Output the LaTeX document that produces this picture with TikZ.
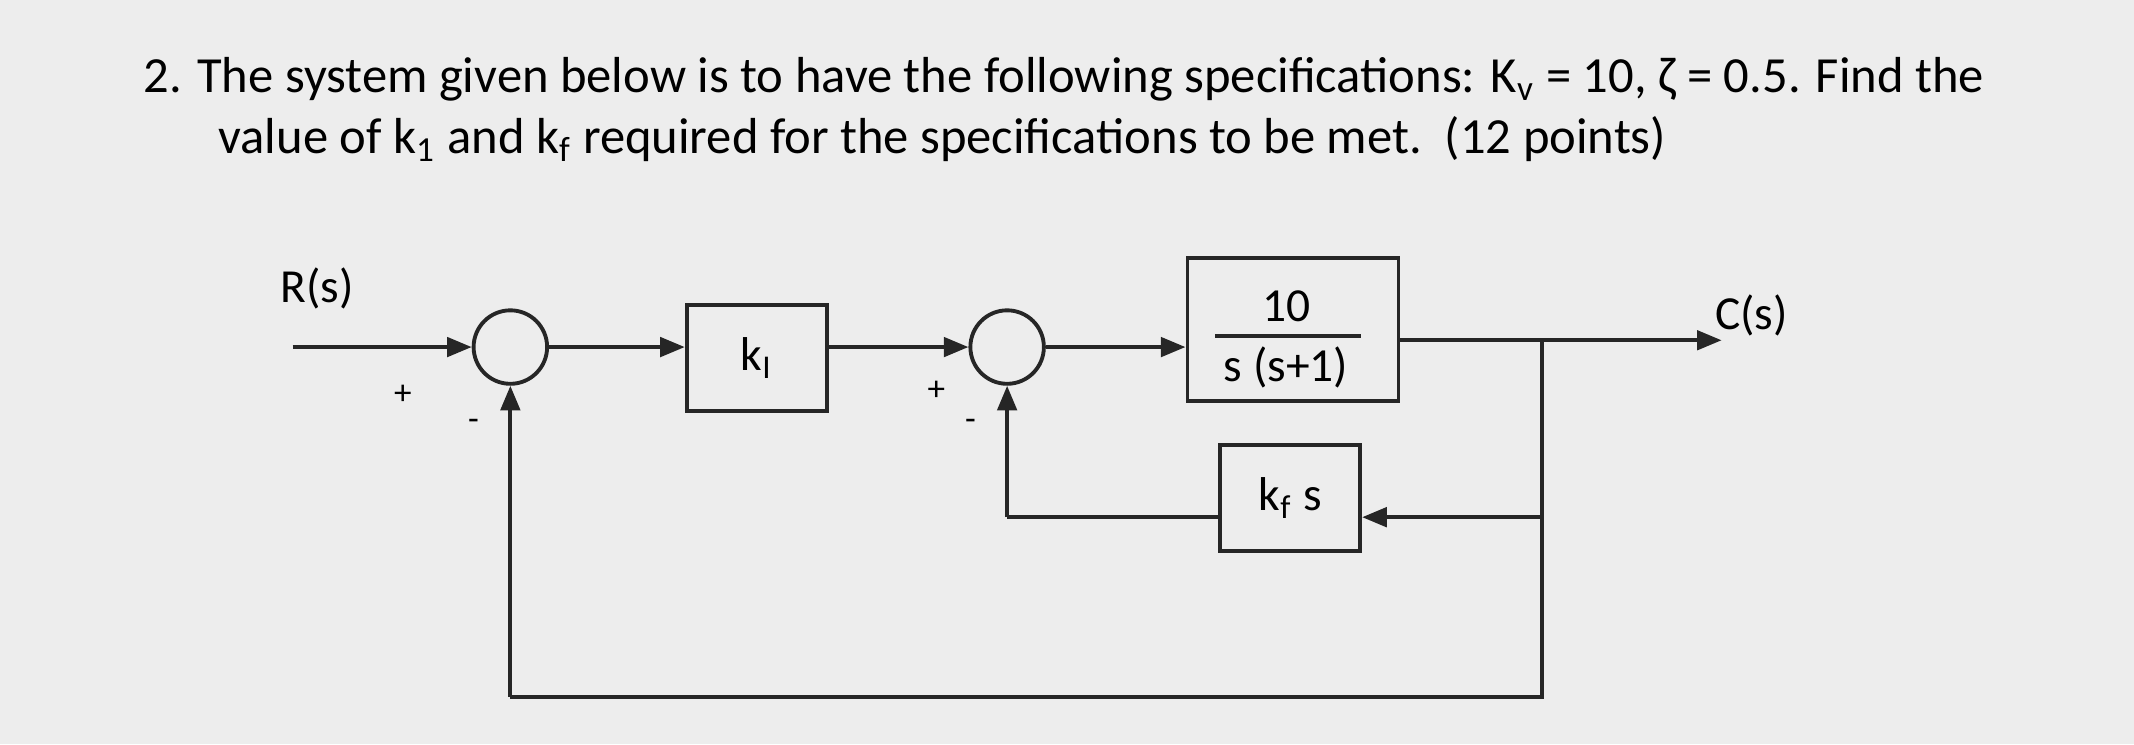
\documentclass[tikz,border=0pt]{standalone}
\usepackage{fontspec}
\setmainfont{Carlito}
\usetikzlibrary{arrows.meta}
\begin{document}
\begin{tikzpicture}[x=0.01361cm,y=-0.01361cm,
  ln/.style={line width=1.1pt,draw=black!85},
  arr/.style={ln,-{Triangle[length=7pt,width=5.5pt]}},
  blk/.style={ln,rectangle,inner sep=0pt},
  sumc/.style={ln,circle,inner sep=0pt,minimum size=0.735cm},
  txt/.style={font=\fontsize{14.4}{17}\selectfont,inner sep=0pt},
  lbl/.style={font=\fontsize{13.5}{16}\selectfont,inner sep=0pt},
  sm/.style={font=\fontsize{10}{12}\selectfont,inner sep=0pt}]
\fill[black!7] (0,0) rectangle (1568,547);
\useasboundingbox (0,0) rectangle (1568,547);
\node[txt,anchor=base west] (t1) at (105,68) {2. The system given below is to have the following specifications: K\textsubscript{v} = 10, ζ = 0.5. Find the};
\node[txt,anchor=base west] (t2) at (160,113) {value of k\textsubscript{1} and k\textsubscript{f} required for the specifications to be met.\ \ (12 points)};
\coordinate (in) at (215,255);
\node[sumc] (s1) at (375,255) {};
\node[blk,minimum width=1.40cm,minimum height=1.06cm] (k1) at (556,263) {};
\node[lbl] (k1t) at (556,263) {k\textsubscript{I}};
\node[sumc] (s2) at (740,255) {};
\node[blk,minimum width=2.11cm,minimum height=1.43cm] (g) at (950,242) {};
\node[lbl] (gn) at (945,225) {10};
\node[lbl] (gd) at (945,270) {s (s+1)};
\draw[ln] (893,247) -- (1000,247);
\node[blk,minimum width=1.40cm,minimum height=1.06cm] (kf) at (948,366) {};
\node[lbl] (kft) at (948,366) {k\textsubscript{f} s};
\coordinate (br) at (1133,250);
\coordinate (out) at (1265,250);
\coordinate (b1) at (1133,380);
\coordinate (b2) at (1133,512);
\coordinate (b3) at (375,512);
\coordinate (f1) at (740,380);
\node[lbl] (R) at (233,212) {R(s)};
\node[lbl] (C) at (1287,232) {C(s)};
\node[sm] (p1) at (296,290) {+};
\node[sm] (m1) at (348,312) {-};
\node[sm] (p2) at (688,287) {+};
\node[sm] (m2) at (713,312) {-};
\draw[arr] (in) -- (s1.west);
\draw[arr] (s1.east) -- (k1.west |- s1.east);
\draw[arr] (k1.east |- s2.west) -- (s2.west);
\draw[arr] (s2.east) -- (g.west |- s2.east);
\draw[arr] (g.east |- br) -- (out);
\draw[ln] (br) -- (b2) -- (b3);
\draw[arr] (b3) -- (s1.south);
\draw[arr] (b1) -- (kf.east |- b1);
\draw[ln] (kf.west |- f1) -- (f1);
\draw[arr] (f1) -- (s2.south);
\end{tikzpicture}
\end{document}
